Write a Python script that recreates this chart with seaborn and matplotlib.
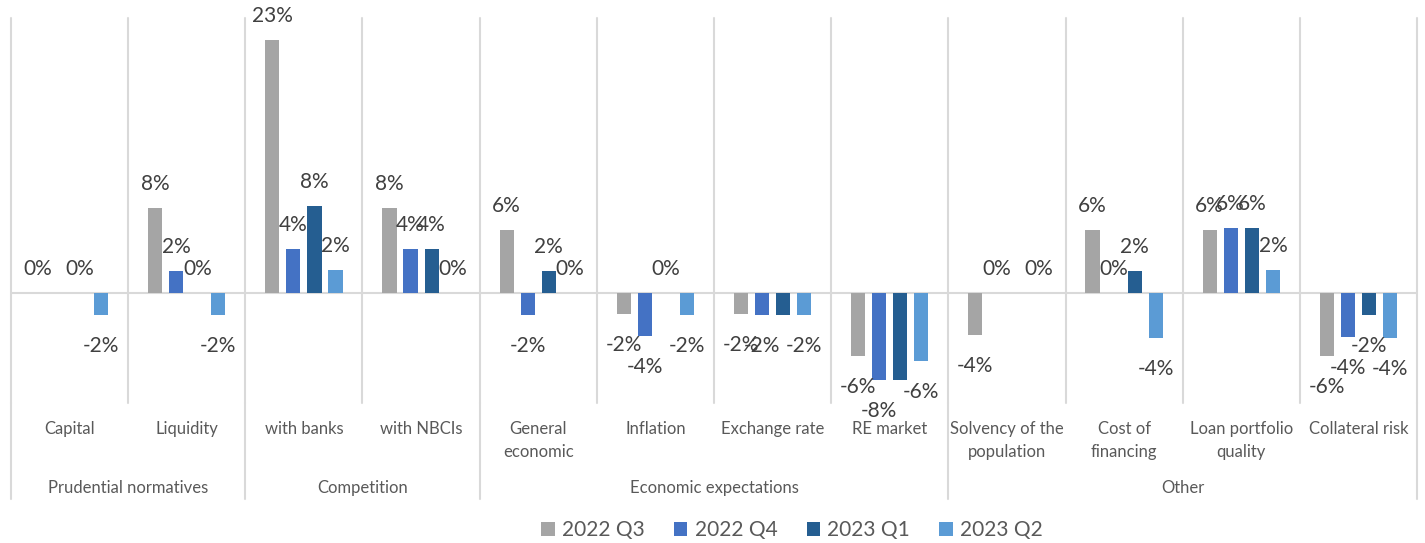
import numpy as np
import pandas as pd
import seaborn as sns
import matplotlib.pyplot as plt
import matplotlib.transforms as mtransforms

# sub-categories (x axis, first level)
categories = ["Capital", "Liquidity", "with banks", "with NBCIs",
              "General\neconomic", "Inflation", "Exchange rate", "RE market",
              "Solvency of the\npopulation", "Cost of\nfinancing",
              "Loan portfolio\nquality", "Collateral risk"]

# second level: group name, first and last sub-category index
groups = ["Prudential normatives", "Competition", "Economic expectations", "Other"]
group_start = [0, 2, 4, 8]
group_end = [1, 3, 7, 11]

series = ["2022 Q3", "2022 Q4", "2023 Q1", "2023 Q2"]
colors = ["#A5A5A5", "#4472C4", "#255E91", "#5B9BD5"]

# values in %, nan = no answer / no bar
q3_2022 = [0.0, 7.7, 23.0, 7.7, 5.7, -1.9, -1.9, -5.7, -3.8, 5.7, 5.7, -5.7]
q4_2022 = [np.nan, 2.0, 4.0, 4.0, -2.0, -3.9, -2.0, -7.9, 0.0, 0.0, 5.9, -4.0]
q1_2023 = [0.0, 0.0, 7.9, 4.0, 2.0, 0.0, -2.0, -7.9, np.nan, 2.0, 5.9, -2.0]
q2_2023 = [-2.0, -2.0, 2.1, 0.0, 0.0, -2.0, -2.0, -6.2, 0.0, -4.1, 2.1, -4.1]

# data labels not shown in the original
hidden_labels = [("Exchange rate", "2023 Q1"), ("RE market", "2023 Q1")]


def main():
  sns.set_style("white")
  plt.rcParams["font.family"] = ["Lato", "DejaVu Sans"]

  df = pd.DataFrame({"category": categories, "2022 Q3": q3_2022, "2022 Q4": q4_2022,
                     "2023 Q1": q1_2023, "2023 Q2": q2_2023})
  df = df.melt(id_vars="category", var_name="period", value_name="value").dropna()

  fig = plt.figure(figsize=(14.25, 5.43), dpi=100)
  W, H = 1425, 543
  ax = fig.add_axes([11 / W, 1 - 403 / H, (1417 - 11) / W, (403 - 18) / H])

  sns.barplot(data=df, x="category", y="value", hue="period", order=categories,
              hue_order=series, palette=colors, errorbar=None, width=0.72, gap=0.33,
              saturation=1, linewidth=0, ax=ax)

  ax.set_xlim(-0.5, len(categories) - 0.5)
  ax.set_ylim(-10, 25)
  for s in ax.spines.values():
    s.set_visible(False)
  ax.set_yticks([])
  ax.set_xlabel("")
  ax.set_ylabel("")
  ax.tick_params(axis="x", length=0, pad=13, labelsize=12, labelcolor="#595959")
  for lbl in ax.get_xticklabels():
    lbl.set_linespacing(1.5)

  # zero line and category separators
  ax.axhline(0, color="#D9D9D9", lw=1.5, zorder=0)
  for i in range(len(categories) + 1):
    ax.axvline(i - 0.5, color="#D9D9D9", lw=1.5, zorder=0, clip_on=False)

  # data labels (above positive bars, below negative ones)
  for s, cont in zip(series, ax.containers):
    pos, neg = [], []
    for bar, v in zip(cont.patches, cont.datavalues):
      cat = categories[int(round(bar.get_x() + bar.get_width() / 2))]
      txt = "" if (cat, s) in hidden_labels else f"{v:.0f}%"
      pos.append(txt if v >= 0 else "")
      neg.append(txt if v < 0 else "")
    ax.bar_label(cont, labels=pos, padding=10, fontsize=15, color="#404040")
    ax.bar_label(cont, labels=neg, padding=15, fontsize=15, color="#404040")

  # second level of the category axis
  trans = mtransforms.blended_transform_factory(ax.transData, ax.transAxes)
  for b in [group_start[0]] + [e + 1 for e in group_end]:
    ax.plot([b - 0.5, b - 0.5], [0, -0.249], color="#D9D9D9", lw=1.5,
            transform=trans, clip_on=False)
  for name, s, e in zip(groups, group_start, group_end):
    ax.text((s + e) / 2, -0.234, name, transform=trans, ha="center", va="baseline",
            fontsize=12, color="#595959")

  handles, labels = ax.get_legend_handles_labels()
  ax.legend_.remove()
  fig.legend(handles, labels, loc="center", bbox_to_anchor=(792 / W, 1 - 530 / H), ncol=4,
             frameon=False, fontsize=15, labelcolor="#595959", handlelength=0.65,
             handleheight=0.65, handletextpad=0.35, columnspacing=1.4)

  fig.savefig("out.png", dpi=100)


if __name__ == "__main__":
  main()
